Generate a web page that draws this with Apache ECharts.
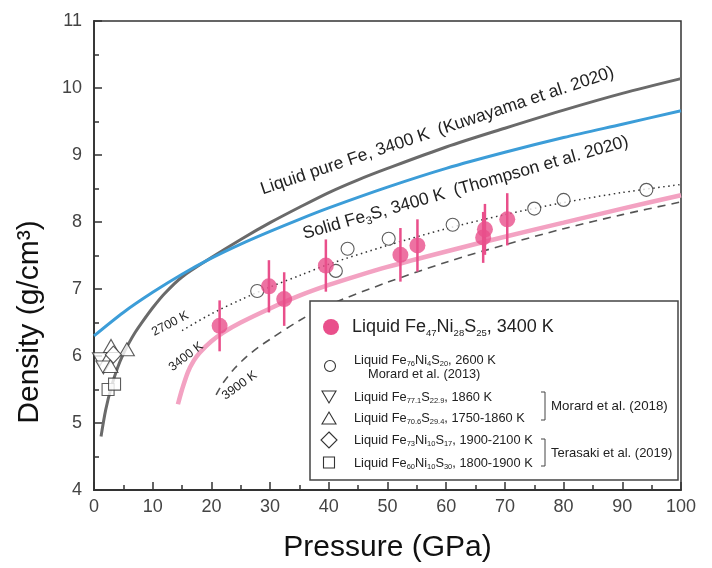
<!DOCTYPE html>
<html><head><meta charset="utf-8">
<script src="https://cdn.jsdelivr.net/npm/echarts@6/dist/echarts.min.js"></script>
<style>html,body{margin:0;padding:0;background:#fff}#c{width:712px;height:568px}</style>
</head><body><div id="c"></div>
<script>
// ---------- data ----------
const fePureP = [1.2, 2, 3, 4, 5, 6, 7, 8, 10, 12, 15, 20, 25, 30, 35, 40, 45, 50, 60, 70, 80, 90, 100];
const fePureD = [4.8, 5.2, 5.55, 5.82, 6.03, 6.2, 6.35, 6.48, 6.72, 6.93, 7.18, 7.47, 7.74, 7.99, 8.22, 8.44, 8.63, 8.8, 9.12, 9.4, 9.67, 9.92, 10.14];

const fe3sP = [0, 5, 10, 15, 20, 25, 30, 35, 40, 50, 60, 70, 80, 90, 100];
const fe3sD = [6.3, 6.65, 6.95, 7.22, 7.46, 7.67, 7.86, 8.04, 8.21, 8.52, 8.8, 9.04, 9.26, 9.46, 9.66];

const fit3400P = [14.3, 15, 16, 17, 18, 20, 22, 25, 30, 35, 40, 45, 50, 60, 70, 80, 90, 100];
const fit3400D = [5.28, 5.5, 5.76, 5.93, 6.05, 6.22, 6.35, 6.5, 6.71, 6.9, 7.06, 7.2, 7.33, 7.56, 7.78, 7.99, 8.2, 8.4];

const fit2700P = [15, 20, 25, 30, 35, 40, 50, 60, 70, 80, 90, 100];
const fit2700D = [6.38, 6.63, 6.84, 7.03, 7.2, 7.37, 7.65, 7.9, 8.11, 8.29, 8.44, 8.56];

const fit3900P = [20.8, 22, 24, 26, 28, 30, 35, 40, 50, 60, 70, 80, 90, 100];
const fit3900D = [5.42, 5.6, 5.82, 5.99, 6.13, 6.25, 6.53, 6.76, 7.1, 7.4, 7.66, 7.9, 8.11, 8.3];

const sampleP = [21.4, 29.8, 32.4, 39.5, 52.2, 55.1, 66.3, 66.6, 70.4];
const sampleD = [6.45, 7.04, 6.85, 7.35, 7.51, 7.65, 7.77, 7.89, 8.04];
const sampleErr = [0.38, 0.39, 0.4, 0.39, 0.4, 0.39, 0.38, 0.38, 0.39];

const morard2013P = [27.8, 41.2, 43.2, 50.2, 61.1, 75.0, 80.0, 94.1];
const morard2013D = [6.97, 7.27, 7.6, 7.75, 7.96, 8.2, 8.33, 8.48];

const morard2018aP = [1.0, 1.6];        // Fe77.1S22.9 (down triangles)
const morard2018aD = [5.95, 5.83];
const morard2018bP = [2.9, 5.6, 2.8];   // Fe70.6S29.4 (up triangles)
const morard2018bD = [6.15, 6.1, 5.85];
const terasakiAP = [3.3];               // Fe73Ni10S17 (diamonds)
const terasakiAD = [6.02];
const terasakiBP = [2.4, 3.5];          // Fe60Ni10S30 (squares)
const terasakiBD = [5.5, 5.58];

const xTickMin = 0, xTickMax = 100, xTickStep = 10;
const yTickMin = 4, yTickMax = 11, yTickStep = 1;

// ---------- styling ----------
const FONT = "'Liberation Sans', Arial, Helvetica, sans-serif";
const PINK = '#E94F8B';
const PINK_LINE = '#F3A2C2';
const BLUE = '#3C9DD8';
const GRAY = '#6A6A6A';
const INK = '#333';

const zip = (a, b) => a.map((v, i) => [v, b[i]]);

function richStyles(main, sub, lh, subLh) {
  return {
    m: { fontSize: main, lineHeight: lh, fontFamily: FONT, fill: '#222' },
    s: { fontSize: sub, lineHeight: subLh, fontFamily: FONT, fill: '#222', verticalAlign: 'bottom' }
  };
}

// annotation texts along the curves (layout kept separate from the data)
const annotations = [
  { text: '{m|Liquid pure Fe, 3400 K  (Kuwayama et al. 2020)}', at: [58.5, 9.36], angle: 18.5, size: 17.5, sub: 11 },
  { text: '{m|Solid Fe}{s|3}{m|S, 3400 K  (Thompson et al. 2020)}', at: [63.3, 8.51], angle: 16, size: 17.5, sub: 11 },
  { text: '{m|2700 K}', at: [13.0, 6.48], angle: 27.6, size: 12.5, sub: 8 },
  { text: '{m|3400 K}', at: [15.7, 5.99], angle: 37.7, size: 12.5, sub: 8 },
  { text: '{m|3900 K}', at: [24.8, 5.56], angle: 36, size: 12.5, sub: 8 }
];

const openItem = { color: '#fff', borderColor: INK, borderWidth: 1.1 };

const chart = echarts.init(document.getElementById('c'), null, { renderer: 'canvas' });

const SM = richStyles(12.8, 7.5, 15, 6);

// legend (drawn as graphics)
const LX = 310, LY = 301, LW = 368, LH = 179;
const legendEls = [
  { type: 'rect', shape: { x: LX, y: LY, width: LW, height: LH }, style: { fill: '#fff', stroke: '#444', lineWidth: 1.5 }, z: 100 },
  { type: 'circle', shape: { cx: 331, cy: 327, r: 8 }, style: { fill: PINK }, z: 101 },
  { type: 'text', x: 352, y: 327, z: 101, style: { text: '{m|Liquid Fe}{s|47}{m|Ni}{s|28}{m|S}{s|25}{m|, 3400 K}', rich: richStyles(18, 9.5, 22, 9), verticalAlign: 'middle', align: 'left' } },
  { type: 'circle', shape: { cx: 330, cy: 366, r: 5.5 }, style: { fill: '#fff', stroke: INK, lineWidth: 1.1 }, z: 101 },
  { type: 'text', x: 354, y: 360, z: 101, style: { text: '{m|Liquid Fe}{s|76}{m|Ni}{s|4}{m|S}{s|20}{m|, 2600 K}', rich: SM, verticalAlign: 'middle', align: 'left' } },
  { type: 'text', x: 368, y: 374, z: 101, style: { text: '{m|Morard et al. (2013)}', rich: SM, verticalAlign: 'middle', align: 'left' } },
  { type: 'polygon', shape: { points: [[322, 391], [336, 391], [329, 403]] }, style: { fill: '#fff', stroke: INK, lineWidth: 1.1 }, z: 101 },
  { type: 'text', x: 354, y: 397, z: 101, style: { text: '{m|Liquid Fe}{s|77.1}{m|S}{s|22.9}{m|, 1860 K}', rich: SM, verticalAlign: 'middle', align: 'left' } },
  { type: 'polygon', shape: { points: [[322, 424], [336, 424], [329, 412]] }, style: { fill: '#fff', stroke: INK, lineWidth: 1.1 }, z: 101 },
  { type: 'text', x: 354, y: 418, z: 101, style: { text: '{m|Liquid Fe}{s|70.6}{m|S}{s|29.4}{m|, 1750-1860 K}', rich: SM, verticalAlign: 'middle', align: 'left' } },
  { type: 'polygon', shape: { points: [[329, 432], [337, 440], [329, 448], [321, 440]] }, style: { fill: '#fff', stroke: INK, lineWidth: 1.1 }, z: 101 },
  { type: 'text', x: 354, y: 440, z: 101, style: { text: '{m|Liquid Fe}{s|73}{m|Ni}{s|10}{m|S}{s|17}{m|, 1900-2100 K}', rich: SM, verticalAlign: 'middle', align: 'left' } },
  { type: 'rect', shape: { x: 323.5, y: 457, width: 11, height: 11 }, style: { fill: '#fff', stroke: INK, lineWidth: 1.1 }, z: 101 },
  { type: 'text', x: 354, y: 463, z: 101, style: { text: '{m|Liquid Fe}{s|60}{m|Ni}{s|10}{m|S}{s|30}{m|, 1800-1900 K}', rich: SM, verticalAlign: 'middle', align: 'left' } },
  { type: 'polyline', shape: { points: [[541, 392], [545, 392], [545, 420], [541, 420]] }, style: { fill: null, stroke: '#444', lineWidth: 1 }, z: 101 },
  { type: 'text', x: 551, y: 406, z: 101, style: { text: 'Morard et al. (2018)', fontSize: 13.3, fontFamily: FONT, fill: '#222', verticalAlign: 'middle', align: 'left' } },
  { type: 'polyline', shape: { points: [[541, 439], [545, 439], [545, 466], [541, 466]] }, style: { fill: null, stroke: '#444', lineWidth: 1 }, z: 101 },
  { type: 'text', x: 551, y: 453, z: 101, style: { text: 'Terasaki et al. (2019)', fontSize: 13, fontFamily: FONT, fill: '#222', verticalAlign: 'middle', align: 'left' } },
  // y axis title
  { type: 'text', x: 30, y: 322, rotation: Math.PI / 2, z: 101, style: { text: 'Density (g/cm³)', fontSize: 30, fontFamily: FONT, fill: '#111', align: 'center', verticalAlign: 'middle' } }
];

const axisCommon = {
  axisLine: { show: true, lineStyle: { color: '#333', width: 1.8 } },
  axisTick: { show: true, inside: true, length: 8, lineStyle: { color: '#333', width: 1.5 } },
  minorTick: { show: true, splitNumber: 2, length: 5, lineStyle: { color: '#333', width: 1.5 } },
  splitLine: { show: false },
  axisLabel: { fontSize: 18, color: '#444', fontFamily: FONT }
};

const option = {
  animation: false,
  backgroundColor: '#fff',
  grid: { left: 94, right: 31, top: 21, bottom: 76, show: true, borderColor: '#333', borderWidth: 1.5 },
  xAxis: Object.assign({}, axisCommon, {
    type: 'value', min: xTickMin, max: xTickMax, interval: xTickStep,
    name: 'Pressure (GPa)', nameLocation: 'middle', nameGap: 43,
    nameTextStyle: { fontSize: 30, color: '#111', fontFamily: FONT },
    axisLabel: Object.assign({}, axisCommon.axisLabel, { margin: 8 })
  }),
  yAxis: Object.assign({}, axisCommon, {
    type: 'value', min: yTickMin, max: yTickMax, interval: yTickStep,
    axisLabel: Object.assign({}, axisCommon.axisLabel, { margin: 12 })
  }),
  graphic: { elements: legendEls },
  series: [
    { type: 'line', data: zip(fePureP, fePureD), smooth: 0.3, showSymbol: false, z: 2, lineStyle: { color: GRAY, width: 3 } },
    { type: 'line', data: zip(fe3sP, fe3sD), smooth: 0.3, showSymbol: false, z: 2, lineStyle: { color: BLUE, width: 3 } },
    { type: 'line', data: zip(fit3400P, fit3400D), smooth: 0.3, showSymbol: false, z: 2, lineStyle: { color: PINK_LINE, width: 4.5 } },
    { type: 'line', data: zip(fit2700P, fit2700D), smooth: 0.3, showSymbol: false, z: 2, lineStyle: { color: '#333', width: 1.5, type: [1.5, 3.5] } },
    { type: 'line', data: zip(fit3900P, fit3900D), smooth: 0.3, showSymbol: false, z: 2, lineStyle: { color: '#555', width: 1.6, type: [8, 6] } },
    { type: 'scatter', data: zip(morard2013P, morard2013D), symbol: 'circle', symbolSize: 13, z: 3, itemStyle: openItem },
    { type: 'scatter', data: zip(morard2018aP, morard2018aD), symbol: 'triangle', symbolRotate: 180, symbolSize: [15, 13], z: 3, itemStyle: openItem },
    { type: 'scatter', data: zip(morard2018bP, morard2018bD), symbol: 'triangle', symbolSize: [15, 13], z: 3, itemStyle: openItem },
    { type: 'scatter', data: zip(terasakiAP, terasakiAD), symbol: 'diamond', symbolSize: [16, 17], z: 3, itemStyle: openItem },
    { type: 'scatter', data: zip(terasakiBP, terasakiBD), symbol: 'rect', symbolSize: 12, z: 3, itemStyle: openItem },
    {
      type: 'custom', z: 4, silent: true,
      data: sampleP.map((p, i) => [p, sampleD[i], sampleErr[i]]),
      renderItem: function (params, api) {
        const x = api.value(0), y = api.value(1), e = api.value(2);
        const a = api.coord([x, y - e]), b = api.coord([x, y + e]);
        return { type: 'line', shape: { x1: a[0], y1: a[1], x2: b[0], y2: b[1] }, style: { stroke: PINK, lineWidth: 2.5 } };
      }
    },
    { type: 'scatter', data: zip(sampleP, sampleD), symbol: 'circle', symbolSize: 16, z: 5, itemStyle: { color: PINK } },
    {
      type: 'custom', z: 6, silent: true, clip: false,
      data: annotations.map((a, i) => [a.at[0], a.at[1], i]),
      renderItem: function (params, api) {
        const a = annotations[api.value(2)];
        const pt = api.coord([api.value(0), api.value(1)]);
        return {
          type: 'text', x: pt[0], y: pt[1], rotation: a.angle * Math.PI / 180,
          style: { text: a.text, rich: richStyles(a.size, a.sub, a.size + 4, a.sub), align: 'center', verticalAlign: 'middle' }
        };
      }
    }
  ]
};
chart.setOption(option);
</script>
</body></html>
